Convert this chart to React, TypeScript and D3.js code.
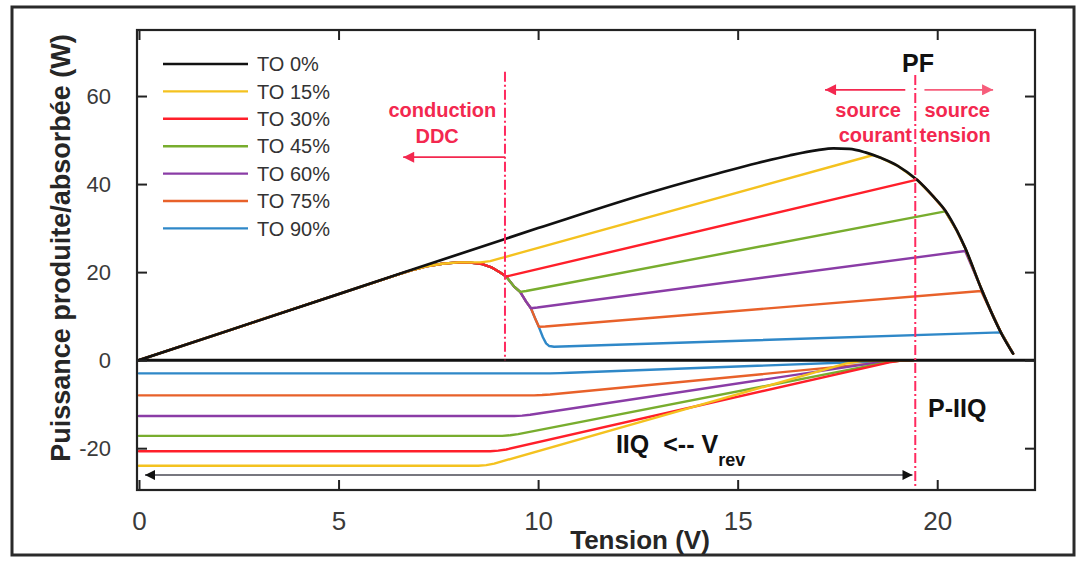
import React, { useEffect, useRef } from 'react';
import * as d3 from 'd3';

type Pt = [number, number];

// --- Données ---
const ticksTension = [0, 5, 10, 15, 20];
const ticksPuissance = [-20, 0, 20, 40, 60];
const legende = ['TO 0%', 'TO 15%', 'TO 30%', 'TO 45%', 'TO 60%', 'TO 75%', 'TO 90%'];
const couleurs = ['#111111', '#f4c21f', '#ff1f2a', '#78ad2e', '#8a3ca6', '#e8612a', '#2f88c8'];

// puissance produite (W) en fonction de la tension (V)
const to0Produite: Pt[] = [
  [0, 0], [5, 15], [10, 30], [13, 38.6], [14.5, 42.4], [15.5, 44.8], [16.3, 46.5], [17, 47.7], [17.4, 48.1],
  [17.8, 48.0], [18.2, 47.2], [18.6, 45.9], [19, 44.2], [19.5, 40.9], [19.9, 37.2], [20.2, 34],
  [20.5, 29.3], [20.7, 25.5], [21.1, 16.3], [21.4, 10], [21.6, 6.2], [21.9, 1.5],
];
const to15Produite: Pt[] = [
  [0, 0], [6.5, 19.5], [6.9, 20.6], [7.2, 21.3], [7.6, 21.9], [8.0, 22.2], [8.3, 22.2], [8.55, 22.2],
  [8.8, 22.5], [9.0, 23.0], [18.4, 46.6], [18.6, 45.9], [19, 44.2], [19.5, 40.9], [19.9, 37.2],
  [20.2, 34], [20.5, 29.3], [20.7, 25.5], [21.1, 16.3], [21.4, 10], [21.6, 6.2], [21.9, 1.5],
];
const to30Produite: Pt[] = [
  [0, 0], [6.5, 19.5], [6.9, 20.6], [7.2, 21.3], [7.6, 21.9], [8.0, 22.2], [8.3, 22.15], [8.6, 21.8],
  [8.85, 21.0], [9.05, 19.9], [9.2, 19.0], [9.35, 19.3], [19.5, 41.0], [19.9, 37.2], [20.2, 34],
  [20.5, 29.3], [20.7, 25.5], [21.1, 16.3], [21.4, 10], [21.6, 6.2], [21.9, 1.5],
];
const to45Produite: Pt[] = [
  [0, 0], [6.5, 19.5], [6.9, 20.6], [7.2, 21.3], [7.6, 21.9], [8.0, 22.2], [8.3, 22.15], [8.6, 21.8],
  [8.85, 21.0], [9.05, 19.9], [9.2, 19.0], [9.4, 16.7], [9.55, 15.5], [9.7, 15.7], [20.2, 33.8],
  [20.5, 29.3], [20.7, 25.5], [21.1, 16.3], [21.4, 10], [21.6, 6.2], [21.9, 1.5],
];
const to60Produite: Pt[] = [
  [0, 0], [6.5, 19.5], [6.9, 20.6], [7.2, 21.3], [7.6, 21.9], [8.0, 22.2], [8.3, 22.15], [8.6, 21.8],
  [8.85, 21.0], [9.05, 19.9], [9.2, 19.0], [9.4, 16.7], [9.55, 15.5], [9.7, 13.3], [9.82, 11.8],
  [9.98, 11.95], [20.7, 24.8], [21.1, 16.3], [21.4, 10], [21.6, 6.2], [21.9, 1.5],
];
const to75Produite: Pt[] = [
  [0, 0], [6.5, 19.5], [6.9, 20.6], [7.2, 21.3], [7.6, 21.9], [8.0, 22.2], [8.3, 22.15], [8.6, 21.8],
  [8.85, 21.0], [9.05, 19.9], [9.2, 19.0], [9.4, 16.7], [9.55, 15.5], [9.7, 13.3], [9.82, 11.8],
  [9.92, 9.6], [10.02, 7.6], [10.18, 7.65], [21.1, 15.7], [21.4, 10], [21.6, 6.2], [21.9, 1.5],
];
const to90Produite: Pt[] = [
  [0, 0], [6.5, 19.5], [6.9, 20.6], [7.2, 21.3], [7.6, 21.9], [8.0, 22.2], [8.3, 22.15], [8.6, 21.8],
  [8.85, 21.0], [9.05, 19.9], [9.2, 19.0], [9.4, 16.7], [9.55, 15.5], [9.7, 13.3], [9.82, 11.8],
  [9.92, 9.6], [10.02, 7.5], [10.12, 5.2], [10.2, 3.8], [10.28, 3.2], [10.4, 3.05], [21.6, 6.3], [21.9, 1.5],
];

// puissance absorbée (W), négative
const to0Absorbee: Pt[] = [[0, 0], [22.45, 0]];
const to15Absorbee: Pt[] = [[0, -24], [8.5, -24], [8.7, -23.85], [8.9, -23.5], [17.7, -0.8], [18.1, -0.2], [19.4, 0]];
const to30Absorbee: Pt[] = [[0, -20.7], [8.8, -20.7], [9.0, -20.55], [9.2, -20.3], [18.8, -0.5], [19.1, -0.1], [19.4, 0]];
const to45Absorbee: Pt[] = [[0, -17.2], [9.1, -17.2], [9.3, -17.05], [9.5, -16.8], [18.8, -0.4], [19.1, -0.1], [19.4, 0]];
const to60Absorbee: Pt[] = [[0, -12.7], [9.4, -12.7], [9.6, -12.6], [9.8, -12.4], [18.6, -0.4], [18.9, -0.1], [19.4, 0]];
const to75Absorbee: Pt[] = [[0, -8.0], [9.9, -8.0], [10.1, -7.93], [10.3, -7.8], [18.8, -0.4], [19.1, -0.1], [19.4, 0]];
const to90Absorbee: Pt[] = [[0, -3.0], [10.3, -3.0], [10.55, -2.95], [10.8, -2.85], [18.4, -0.3], [18.8, -0.1], [19.4, 0]];

const seriesProduite = [to0Produite, to15Produite, to30Produite, to45Produite, to60Produite, to75Produite, to90Produite];
const seriesAbsorbee = [to0Absorbee, to15Absorbee, to30Absorbee, to45Absorbee, to60Absorbee, to75Absorbee, to90Absorbee];

const police = "'Liberation Sans', Arial, Helvetica, sans-serif";
const rouge = '#f3284f';
const rougeTirets = '#ff2a5f';

const App = () => {
  const svgRef = useRef<SVGSVGElement>(null);

  useEffect(() => {
    const svg = d3.select(svgRef.current);
    svg.selectAll('*').remove();

    const x = d3.scaleLinear().domain([-0.05, 22.45]).range([137, 1035]);
    const y = d3.scaleLinear().domain([-29.5, 75]).range([490, 30]);
    const [x0, x1] = x.range();
    const [y0, y1] = y.range();

    // cadre extérieur de la figure
    svg.append('rect')
      .attr('x', 12).attr('y', 7).attr('width', 1062).attr('height', 548)
      .attr('fill', '#fff').attr('stroke', '#2a2a2a').attr('stroke-width', 3);

    // flèches
    const defs = svg.append('defs');
    const marker = (id: string, color: string, w: number, h: number) => {
      defs.append('marker')
        .attr('id', id).attr('viewBox', '0 0 10 10').attr('refX', 10).attr('refY', 5)
        .attr('markerWidth', w).attr('markerHeight', h)
        .attr('markerUnits', 'userSpaceOnUse').attr('orient', 'auto-start-reverse')
        .append('path').attr('d', 'M0,0L10,5L0,10Z').attr('fill', color);
    };
    marker('pRouge', rouge, 14, 11);
    marker('pNoir', '#111', 13, 10);

    defs.append('clipPath').attr('id', 'zone')
      .append('rect').attr('x', x0).attr('y', y1).attr('width', x1 - x0).attr('height', y0 - y1);

    // --- Courbes ---
    // segments droits pour les TO > 0 %, courbe lissée pour TO 0 %
    const ligne = d3.line<Pt>().x(d => x(d[0])).y(d => y(d[1]));
    const ligneLisse = d3.line<Pt>().x(d => x(d[0])).y(d => y(d[1])).curve(d3.curveMonotoneX);
    const gCourbes = svg.append('g').attr('clip-path', 'url(#zone)')
      .attr('fill', 'none').attr('stroke-linejoin', 'round').attr('stroke-linecap', 'round');

    for (let i = seriesAbsorbee.length - 1; i >= 1; i--) {
      gCourbes.append('path').attr('d', ligne(seriesAbsorbee[i]))
        .attr('stroke', couleurs[i]).attr('stroke-width', 2.4);
    }
    for (let i = seriesProduite.length - 1; i >= 1; i--) {
      gCourbes.append('path').attr('d', ligne(seriesProduite[i]))
        .attr('stroke', couleurs[i]).attr('stroke-width', 2.4);
    }
    gCourbes.append('path').attr('d', ligne(to0Absorbee))
      .attr('stroke', couleurs[0]).attr('stroke-width', 3);
    gCourbes.append('path').attr('d', ligneLisse(to0Produite))
      .attr('stroke', couleurs[0]).attr('stroke-width', 2.7);

    // --- Annotations ---
    const tiret = (v: number, pHaut: number, pBas: number) =>
      svg.append('line')
        .attr('x1', x(v)).attr('x2', x(v)).attr('y1', y(pHaut)).attr('y2', y(pBas))
        .attr('stroke', rougeTirets).attr('stroke-width', 2).attr('stroke-dasharray', '10,3,2,3');
    const fleche = (va: number, vb: number, p: number, color: string, id: string, w: number, opacity = 1) =>
      svg.append('line')
        .attr('x1', x(va)).attr('x2', x(vb)).attr('y1', y(p)).attr('y2', y(p))
        .attr('stroke', color).attr('stroke-width', w).attr('opacity', opacity)
        .attr('marker-end', `url(#${id})`);
    const texte = (v: number, p: number, t: string, size: number, color: string, anchor = 'middle') =>
      svg.append('text')
        .attr('x', x(v)).attr('y', y(p)).attr('text-anchor', anchor)
        .attr('font-family', police).attr('font-size', size).attr('font-weight', 'bold')
        .attr('fill', color).text(t);

    // conduction DDC
    tiret(9.17, 65.5, 0);
    fleche(9.17, 6.62, 46.1, rouge, 'pRouge', 1.8);
    texte(7.6, 55.2, 'conduction', 20, rouge);
    texte(7.47, 49.3, 'DDC', 20, rouge);

    // PF : source courant / source tension
    tiret(19.45, 64.8, -29.5);
    texte(19.52, 65.4, 'PF', 25, '#111');
    fleche(19.2, 17.19, 61.4, rouge, 'pRouge', 1.8);
    fleche(19.68, 21.4, 61.4, rouge, 'pRouge', 1.6, 0.75);
    texte(18.27, 55.2, 'source', 20, rouge);
    texte(18.45, 49.5, 'courant', 20, rouge);
    texte(20.5, 55.2, 'source', 20, rouge);
    texte(20.45, 49.5, 'tension', 20, rouge);

    // IIQ / P-IIQ
    svg.append('line')
      .attr('x1', x(0.15)).attr('x2', x(19.38)).attr('y1', y(-26.1)).attr('y2', y(-26.1))
      .attr('stroke', '#4a4a55').attr('stroke-width', 1.6)
      .attr('marker-start', 'url(#pNoir)').attr('marker-end', 'url(#pNoir)');
    const iiq = texte(11.95, -21.1, '', 25, '#111', 'start');
    iiq.append('tspan').text('IIQ');
    iiq.append('tspan').attr('dx', 14).text('<-- V');
    iiq.append('tspan').attr('dy', 13).attr('font-size', 18).text('rev');
    texte(20.5, -13.0, 'P-IIQ', 25, '#111');

    // --- Axes (boîte style MATLAB, graduations intérieures) ---
    const fmt = (d: d3.NumberValue) => String(d);
    const gx = svg.append('g').attr('transform', `translate(0,${y0})`)
      .call(d3.axisBottom(x).tickValues(ticksTension).tickSize(-10).tickSizeOuter(0).tickPadding(22).tickFormat(fmt));
    gx.attr('font-size', 26).attr('font-family', police);
    gx.selectAll('text').attr('fill', '#3a3a3a');

    const gy = svg.append('g').attr('transform', `translate(${x0},0)`)
      .call(d3.axisLeft(y).tickValues(ticksPuissance).tickSize(-10).tickSizeOuter(0).tickPadding(26).tickFormat(fmt));
    gy.attr('font-size', 22).attr('font-family', police);
    gy.selectAll('text').attr('fill', '#3a3a3a');

    svg.append('g').attr('transform', `translate(0,${y1})`)
      .call(d3.axisTop(x).tickValues(ticksTension).tickSize(-10).tickSizeOuter(0).tickFormat(() => ''));
    svg.append('g').attr('transform', `translate(${x1},0)`)
      .call(d3.axisRight(y).tickValues(ticksPuissance).tickSize(-10).tickSizeOuter(0).tickFormat(() => ''));

    svg.selectAll('.domain').remove();
    svg.selectAll('.tick line').attr('stroke', '#222').attr('stroke-width', 2);

    svg.append('rect')
      .attr('x', x0).attr('y', y1).attr('width', x1 - x0).attr('height', y0 - y1)
      .attr('fill', 'none').attr('stroke', '#222').attr('stroke-width', 2.2);

    // titres des axes
    svg.append('text')
      .attr('x', 640).attr('y', 549).attr('text-anchor', 'middle')
      .attr('font-family', police).attr('font-size', 26).attr('font-weight', 'bold').attr('fill', '#262626')
      .text('Tension (V)');
    svg.append('text')
      .attr('transform', 'translate(61,248) rotate(-90)').attr('dy', '0.35em').attr('text-anchor', 'middle')
      .attr('font-family', police).attr('font-size', 27).attr('font-weight', 'bold').attr('fill', '#262626')
      .text('Puissance produite/absorbée (W)');

    // --- Légende ---
    const gLeg = svg.append('g');
    legende.forEach((lab, i) => {
      const yy = 64 + i * 27.4;
      gLeg.append('line').attr('x1', 163).attr('x2', 248).attr('y1', yy).attr('y2', yy)
        .attr('stroke', couleurs[i]).attr('stroke-width', 2.4);
      gLeg.append('text').attr('x', 257).attr('y', yy).attr('dy', '0.36em')
        .attr('font-family', police).attr('font-size', 20).attr('fill', '#333').text(lab);
    });
  }, []);

  return (
    <svg ref={svgRef} width={1078} height={564}
      style={{ position: 'absolute', left: 0, top: 0, background: '#fff' }} />
  );
};

export default App;
